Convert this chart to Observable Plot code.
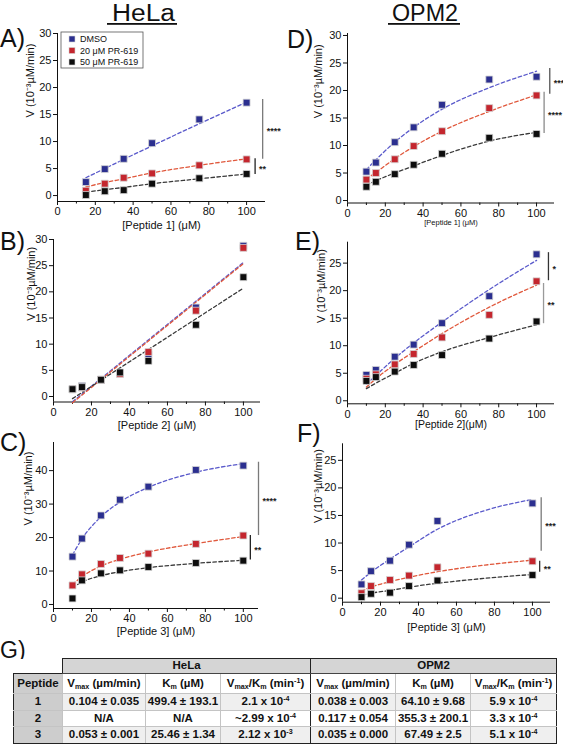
<!DOCTYPE html>
<html>
<head>
<meta charset="utf-8">
<script src="https://cdn.jsdelivr.net/npm/d3@7"></script>
<script src="https://cdn.jsdelivr.net/npm/@observablehq/plot@0.6"></script>
<style>
  body { margin: 0; background: #fff; }
  #root { position: relative; width: 563px; height: 750px; overflow: hidden; background: #fff;
          font-family: "Liberation Sans", Arial, sans-serif; }
  #overlay { position: absolute; left: 0; top: 0; pointer-events: none; }
  #tbl { position: absolute; left: 13px; top: 658px; border-collapse: collapse; table-layout: fixed;
         width: 543px; font: bold 11.5px "Liberation Sans", Arial, sans-serif; color: #111; }
  #tbl td { padding: 0; text-align: center; white-space: nowrap; overflow: hidden; line-height: 1;
            border: 1px solid #c4c4c4; }
  #tbl sub, #tbl sup { font-size: 0.62em; line-height: 0; }
  #tbl sub { vertical-align: -0.3em; }
  #tbl sup { vertical-align: 0.55em; }
  #tbl td.blank { border: none; background: #fff; }
  #tbl td.grp { background: #d5d5d5; border-top: 1.5px solid #222; border-bottom: 1.5px solid #444; }
  #tbl td.first { border-left: 1.5px solid #222; }
  #tbl td.last { border-right: 1.5px solid #222; }
  #tbl td.sep { border-right: 1.5px solid #222; }
  #tbl td.pep { background: #cdcdcd; border-left: 1.5px solid #222; }
  #tbl tr.hdr td.pep { border-top: 1.5px solid #222; }
  #tbl tr.bottom td { border-bottom: 1.5px solid #222; }
  #tbl tr.shade td { background: #efefef; }
  #tbl tr.shade td.pep { background: #cdcdcd; }
</style>
</head>
<body>
<div id="root"></div>
<script>
// ---------------- DATA ----------------
const seriesNames = ["DMSO", "20 μM PR-619", "50 μM PR-619"];

// Panel A – HeLa, Peptide 1
const aX = [15, 25, 35, 50, 75, 100];
const aDMSO = [2.5, 4.9, 6.8, 9.7, 14.1, 17.2];
const aPR20 = [0.9, 2.2, 3.3, 4.1, 5.6, 6.7];
const aPR50 = [0.1, 0.8, 1.0, 2.2, 3.2, 4.0];
const aFitX = [15, 25, 35, 50, 75, 100];
const aFitDMSO = [3.3, 5.0, 6.7, 9.2, 13.3, 17.3];
const aFitPR20 = [1.6, 2.4, 3.1, 4.2, 5.6, 6.8];
const aFitPR50 = [0.6, 1.1, 1.5, 2.2, 3.1, 4.0];

// Panel B – HeLa, Peptide 2
const bX = [10, 15, 25, 35, 50, 75, 100];
const bDMSO = [1.4, 2.0, 3.2, 4.4, 8.0, 17.0, 28.8];
const bPR20 = [1.4, 1.7, 3.2, 4.3, 8.5, 16.4, 28.4];
const bPR50 = [1.4, 1.8, 3.2, 4.6, 6.8, 13.7, 22.8];
const bFitX = [10, 100];
const bFitDMSO = [-1.0, 25.6];
const bFitPR20 = [-1.2, 25.4];
const bFitPR50 = [-0.4, 20.7];

// Panel C – HeLa, Peptide 3
const cX = [10, 15, 25, 35, 50, 75, 100];
const cDMSO = [14.3, 19.7, 26.6, 31.3, 35.2, 40.2, 41.5];
const cPR20 = [5.7, 9.0, 12.1, 13.9, 15.2, 18.1, 20.6];
const cPR50 = [1.8, 7.2, 9.3, 10.2, 11.2, 12.4, 13.1];
const cFitX = [10, 15, 25, 35, 50, 75, 100];
const cFitDMSO = [14.8, 19.6, 26.2, 30.6, 35.0, 39.5, 42.1];
const cFitPR20 = [6.0, 8.3, 11.5, 13.5, 15.7, 18.2, 20.3];
const cFitPR50 = [5.0, 6.7, 8.6, 9.8, 11.0, 12.3, 13.2];

// Panel D – OPM2, Peptide 1
const dX = [10, 15, 25, 35, 50, 75, 100];
const dDMSO = [5.25, 6.9, 10.6, 13.3, 17.4, 22.0, 22.5];
const dPR20 = [3.8, 5.0, 7.5, 9.9, 12.6, 16.8, 19.1];
const dPR50 = [2.5, 3.4, 4.8, 6.5, 8.5, 11.4, 12.1];
const dFitX = [10, 15, 25, 35, 50, 75, 100];
const dFitDMSO = [5.6, 7.4, 10.6, 13.3, 16.6, 20.5, 23.5];
const dFitPR20 = [3.9, 5.1, 7.6, 9.8, 12.6, 16.2, 19.2];
const dFitPR50 = [2.8, 3.6, 5.0, 6.3, 8.2, 10.8, 12.4];

// Panel E – OPM2, Peptide 2
const eX = [10, 15, 25, 35, 50, 75, 100];
const eDMSO = [4.7, 5.6, 8.0, 10.2, 14.1, 19.0, 26.6];
const ePR20 = [4.0, 4.8, 6.6, 8.5, 11.5, 15.6, 21.7];
const ePR50 = [3.6, 4.3, 5.3, 6.5, 8.3, 11.3, 14.4];
const eFitX = [10, 15, 25, 35, 50, 75, 100];
const eFitDMSO = [3.0, 4.6, 7.7, 10.5, 14.3, 20.2, 25.5];
const eFitPR20 = [2.5, 4.0, 6.6, 8.9, 12.2, 17.0, 21.0];
const eFitPR50 = [2.2, 3.2, 5.0, 6.8, 8.9, 11.5, 13.8];

// Panel F – OPM2, Peptide 3
const fX = [10, 15, 25, 35, 50, 100];
const fDMSO = [2.5, 4.9, 6.8, 9.7, 14.0, 17.2];
const fPR20 = [0.9, 2.2, 3.3, 4.1, 5.6, 6.7];
const fPR50 = [0.2, 0.8, 1.0, 2.2, 3.2, 4.2];
const fFitX = [10, 15, 25, 35, 50, 75, 100];
const fFitDMSO = [3.3, 4.7, 7.1, 9.3, 12.5, 15.9, 17.9];
const fFitPR20 = [1.3, 2.0, 3.0, 3.8, 4.8, 6.0, 6.9];
const fFitPR50 = [0.5, 0.9, 1.4, 2.0, 2.7, 3.6, 4.3];

// Significance brackets: [x, yLow, yHigh] and labels
const aSig = [[108.5, 6.7, 17.8], [104.5, 3.9, 6.8]];
const aSigLabels = ["****", "**"];
const cSig = [[108, 20.6, 42.5], [103.7, 13.3, 20.6]];
const cSigLabels = ["****", "**"];
const dSig = [[107, 19.3, 24.0], [104, 12.2, 19.7]];
const dSigLabels = ["***", "****"];
const eSig = [[106.3, 21.8, 26.9], [103.7, 14.0, 21.3]];
const eSigLabels = ["*", "**"];
const fSig = [[104.6, 8.5, 18.2], [103.8, 4.7, 6.7]];
const fSigLabels = ["***", "**"];

// Axis ticks
const xMajorTicks = [0, 20, 40, 60, 80, 100];
const xMinorTicks = [10, 30, 50, 70, 90];
const yTicks30 = [0, 5, 10, 15, 20, 25, 30];
const yTicks25 = [0, 5, 10, 15, 20, 25];
const yTicks40 = [0, 10, 20, 30, 40];

// Table G
const tablePeptides = ["1", "2", "3"];
const helaVmax = ["0.104 ± 0.035", "N/A", "0.053 ± 0.001"];
const helaKm = ["499.4 ± 193.1", "N/A", "25.46 ± 1.34"];
const helaRatio = ["2.1", "~2.99", "2.12"];
const helaRatioExp = ["-4", "-4", "-3"];
const opmVmax = ["0.038 ± 0.003", "0.117 ± 0.054", "0.035 ± 0.000"];
const opmKm = ["64.10 ± 9.68", "355.3 ± 200.1", "67.49 ± 2.5"];
const opmRatio = ["5.9", "3.3", "5.1"];
const opmRatioExp = ["-4", "-4", "-4"];

// ---------------- STYLE ----------------
const FONT = '"Liberation Sans", Arial, sans-serif';
const pointColors = ["#2b2f8f", "#c4262e", "#0d0d0d"];
const fitColors = ["#5a5acb", "#e0583c", "#3a3a3a"];
const yTitle = "V (10⁻³µM/min)";

const root = document.getElementById("root");

function rowsOf(xs, ys) { return xs.map((x, i) => ({x, y: ys[i]})); }

function drawPanel(cfg) {
  const [L, T, W, H] = cfg.box;
  const [fl, ft, fr, fb] = cfg.frame;
  const marks = [
    Plot.ruleX([cfg.xDomain[0]], {stroke: "#111", strokeWidth: 1}),
    Plot.ruleY([cfg.yDomain[0]], {stroke: "#111", strokeWidth: 1}),
    Plot.axisX({ticks: xMajorTicks, tickSize: 4, tickPadding: 2, fontSize: 11, label: null, tickFormat: d => String(d)}),
    Plot.axisX({ticks: xMinorTicks, tickSize: 2.5, label: null, tickFormat: () => ""}),
    Plot.axisY({ticks: cfg.yTicks, tickSize: 4, tickPadding: 2, fontSize: 11, label: null, tickFormat: d => String(d)})
  ];
  cfg.fits.forEach((ys, i) => {
    marks.push(Plot.line(rowsOf(cfg.fitX, ys), {
      x: "x", y: "y", stroke: fitColors[i], strokeWidth: 1.3,
      strokeDasharray: "3.5,2.5", curve: cfg.fitX.length > 2 ? "monotone-x" : "linear"
    }));
  });
  cfg.points.forEach((ys, i) => {
    marks.push(Plot.dot(rowsOf(cfg.x, ys), {
      x: "x", y: "y", symbol: "square", r: 3.9,
      fill: pointColors[i], stroke: "#d6d6d6", strokeWidth: 0.8
    }));
  });
  (cfg.sig || []).forEach((s, i) => {
    const col = cfg.sigColors[i];
    marks.push(Plot.ruleX([s], {x: d => d[0], y1: d => d[1], y2: d => d[2], stroke: col, strokeWidth: 1.3}));
    marks.push(Plot.text([s], {
      x: d => d[0], y: d => (d[1] + d[2]) / 2, text: () => cfg.sigLabels[i],
      textAnchor: "start", dx: 4, dy: 2, fontSize: 9, fontWeight: "bold", fill: "#222"
    }));
  });
  marks.push(Plot.text([cfg.xTitle], {
    text: d => d, frameAnchor: "bottom", dy: cfg.xTitleDy, fontSize: cfg.xTitleSize, fill: "#111"
  }));
  marks.push(Plot.text([yTitle], {
    text: d => d, frameAnchor: "left", dx: cfg.yTitleDx, rotate: -90, fontSize: 11, fill: "#111"
  }));

  const svg = Plot.plot({
    width: W, height: H,
    marginLeft: fl - L, marginTop: ft - T, marginRight: L + W - fr, marginBottom: T + H - fb,
    x: {domain: cfg.xDomain, label: null},
    y: {domain: cfg.yDomain, label: null},
    style: {background: "transparent", overflow: "visible", fontFamily: FONT, fontSize: "11px", color: "#111"},
    marks
  });
  const div = document.createElement("div");
  div.style.cssText = `position:absolute;left:${L}px;top:${T}px;width:${W}px;height:${H}px;`;
  div.appendChild(svg);
  root.appendChild(div);
}

drawPanel({
  box: [0, 25, 292, 215], frame: [57, 33, 265, 201],
  xDomain: [0, 110], yDomain: [-1.1, 30], yTicks: yTicks30,
  x: aX, points: [aDMSO, aPR20, aPR50], fitX: aFitX, fits: [aFitDMSO, aFitPR20, aFitPR50],
  sig: aSig, sigLabels: aSigLabels, sigColors: ["#7a7a7a", "#222"],
  xTitle: "[Peptide 1] (μM)", xTitleDy: 27, xTitleSize: 11, yTitleDx: -27
});
drawPanel({
  box: [0, 232, 292, 205], frame: [53, 239, 260, 401.5],
  xDomain: [0, 109], yDomain: [-1.05, 30], yTicks: yTicks30,
  x: bX, points: [bDMSO, bPR20, bPR50], fitX: bFitX, fits: [bFitDMSO, bFitPR20, bFitPR50],
  xTitle: "[Peptide 2] (μM)", xTitleDy: 26.5, xTitleSize: 11, yTitleDx: -22
});
drawPanel({
  box: [0, 436, 292, 210], frame: [53, 442, 258, 608],
  xDomain: [0, 108], yDomain: [-1.2, 48.4], yTicks: yTicks40,
  x: cX, points: [cDMSO, cPR20, cPR50], fitX: cFitX, fits: [cFitDMSO, cFitPR20, cFitPR50],
  sig: cSig, sigLabels: cSigLabels, sigColors: ["#7a7a7a", "#222"],
  xTitle: "[Peptide 3] (μM)", xTitleDy: 26.5, xTitleSize: 11, yTitleDx: -25
});
drawPanel({
  box: [285, 25, 278, 210], frame: [347, 33, 554, 202.5],
  xDomain: [0, 109.5], yDomain: [-0.45, 30.36], yTicks: yTicks30,
  x: dX, points: [dDMSO, dPR20, dPR50], fitX: dFitX, fits: [dFitDMSO, dFitPR20, dFitPR50],
  sig: dSig, sigLabels: dSigLabels, sigColors: ["#555", "#8a8a8a"],
  xTitle: "[Peptide 1] (μM)", xTitleDy: 21.5, xTitleSize: 7.5, yTitleDx: -29
});
drawPanel({
  box: [285, 236, 278, 205], frame: [347, 241.7, 554, 403.3],
  xDomain: [0, 109.5], yDomain: [-0.55, 28.8], yTicks: yTicks25,
  x: eX, points: [eDMSO, ePR20, ePR50], fitX: eFitX, fits: [eFitDMSO, eFitPR20, eFitPR50],
  sig: eSig, sigLabels: eSigLabels, sigColors: ["#333", "#9a9a9a"],
  xTitle: "[Peptide 2](μM)", xTitleDy: 24.5, xTitleSize: 10.5, yTitleDx: -26
});
drawPanel({
  box: [285, 438, 278, 205], frame: [342, 443.3, 550, 601.7],
  xDomain: [0, 109.5], yDomain: [-0.73, 28.0], yTicks: yTicks25,
  x: fX, points: [fDMSO, fPR20, fPR50], fitX: fFitX, fits: [fFitDMSO, fFitPR20, fFitPR50],
  sig: fSig, sigLabels: fSigLabels, sigColors: ["#7a7a7a", "#333"],
  xTitle: "[Peptide 3] (μM)", xTitleDy: 29, xTitleSize: 11, yTitleDx: -24
});

// ---------------- Overlay: panel letters, titles, legend ----------------
const ov = d3.select(root).append("svg").attr("id", "overlay")
  .attr("width", 563).attr("height", 750).style("font-family", FONT);

const letters = [["A)", 0, 47], ["B)", 0, 250], ["C)", 0, 451], ["D)", 287, 48], ["E)", 295, 250], ["F)", 297, 442]];
letters.forEach(([t, x, y]) => ov.append("text").attr("x", x).attr("y", y)
  .attr("font-size", 25).attr("fill", "#111").text(t));
ov.append("text").attr("x", 0).attr("y", 658).attr("font-size", 23).attr("fill", "#111").text("G)");

[["HeLa", 112, 63, 107, 70], ["OPM2", 392, 66, 388, 72]].forEach(([t, x, len, ux, ulen]) => {
  ov.append("text").attr("x", x).attr("y", 21).attr("font-size", 23)
    .attr("textLength", len).attr("lengthAdjust", "spacingAndGlyphs").attr("fill", "#111").text(t);
  ov.append("rect").attr("x", ux).attr("y", 23).attr("width", ulen).attr("height", 1.8).attr("fill", "#111");
});

// Legend (panel A)
const lg = ov.append("g");
lg.append("rect").attr("x", 61).attr("y", 32).attr("width", 82).attr("height", 36)
  .attr("fill", "#fff").attr("stroke", "#555").attr("stroke-width", 0.8);
seriesNames.forEach((name, i) => {
  const cy = 39 + i * 11.5;
  lg.append("rect").attr("x", 69).attr("y", cy - 3).attr("width", 6).attr("height", 6)
    .attr("fill", pointColors[i]).attr("stroke", "#d6d6d6").attr("stroke-width", 0.6);
  lg.append("text").attr("x", 80).attr("y", cy).attr("dy", "0.35em")
    .attr("font-size", 9).attr("fill", "#111").text(name);
});

// ---------------- Table G ----------------
const tbl = document.createElement("table");
tbl.id = "tbl";
const widths = [49, 83, 75, 90, 85, 75, 86];
const cg = document.createElement("colgroup");
widths.forEach(w => { const c = document.createElement("col"); c.style.width = w + "px"; cg.appendChild(c); });
tbl.appendChild(cg);

function addRow(cells, cls, h) {
  const tr = document.createElement("tr");
  if (cls) tr.className = cls;
  tr.style.height = h + "px";
  cells.forEach(([html, c, span]) => {
    const td = document.createElement("td");
    td.innerHTML = html;
    if (c) td.className = c;
    if (span) td.colSpan = span;
    tr.appendChild(td);
  });
  tbl.appendChild(tr);
}
addRow([["", "blank"], ["HeLa", "grp first sep", 3], ["OPM2", "grp last", 3]], "", 15);
const vmaxH = "V<sub>max</sub> (µm/min)";
const kmH = "K<sub>m</sub> (µM)";
const ratioH = "V<sub>max</sub>/K<sub>m</sub> (min<sup>-1</sup>)";
addRow([["Peptide", "pep"], [vmaxH], [kmH], [ratioH, "sep"], [vmaxH], [kmH], [ratioH, "last"]], "hdr", 20);
tablePeptides.forEach((p, i) => {
  const cls = (i % 2 === 0 ? "shade" : "") + (i === tablePeptides.length - 1 ? " bottom" : "");
  addRow([
    [p, "pep"],
    [helaVmax[i]], [helaKm[i]],
    [`${helaRatio[i]} x 10<sup>${helaRatioExp[i]}</sup>`, "sep"],
    [opmVmax[i]], [opmKm[i]],
    [`${opmRatio[i]} x 10<sup>${opmRatioExp[i]}</sup>`, "last"]
  ], cls, i === 0 ? 17 : (i === 1 ? 16 : 17));
});
root.appendChild(tbl);
</script>
</body>
</html>
